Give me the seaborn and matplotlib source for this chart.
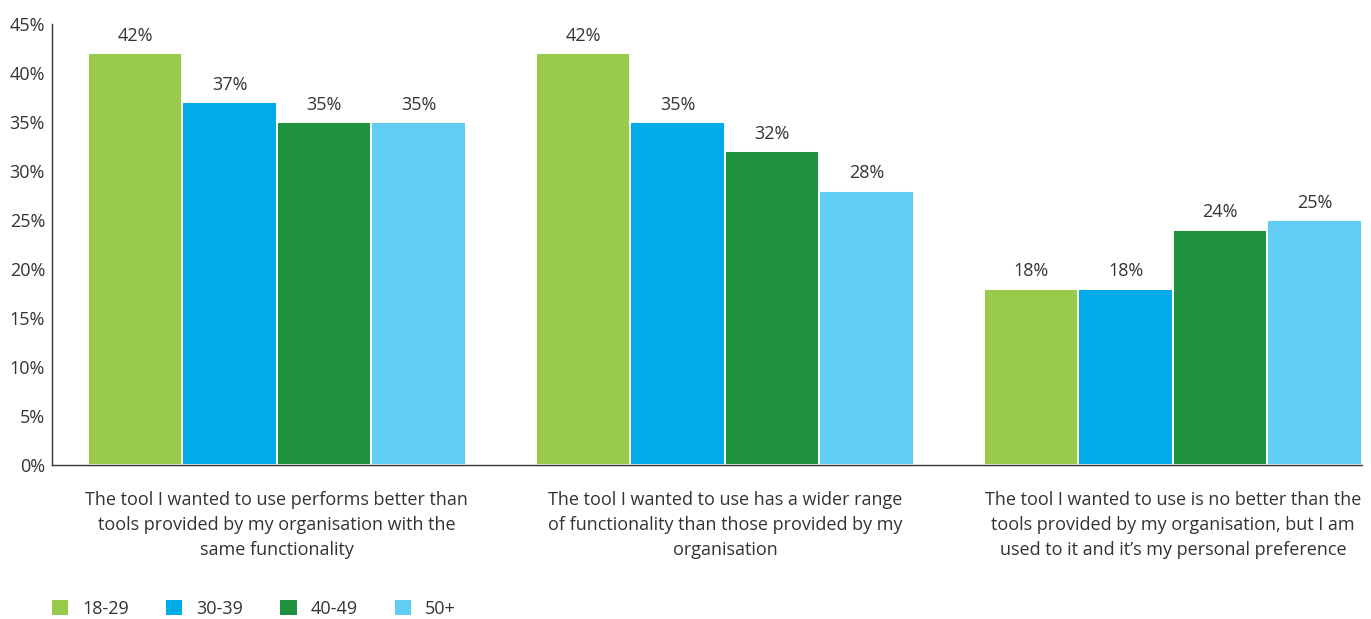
import matplotlib
matplotlib.use("Agg")
import matplotlib.pyplot as plt
import seaborn as sns
import pandas as pd
from matplotlib.patches import Patch

categories = [
    "The tool I wanted to use performs better than\ntools provided by my organisation with the\nsame functionality",
    "The tool I wanted to use has a wider range\nof functionality than those provided by my\norganisation",
    "The tool I wanted to use is no better than the\ntools provided by my organisation, but I am\nused to it and it\u2019s my personal preference",
]
age_groups = ["18-29", "30-39", "40-49", "50+"]
values_18_29 = [42, 42, 18]
values_30_39 = [37, 35, 18]
values_40_49 = [35, 32, 24]
values_50_plus = [35, 28, 25]
palette = ["#9ACA4B", "#00ABE7", "#1F913F", "#62CDF3"]
y_ticks = [0, 5, 10, 15, 20, 25, 30, 35, 40, 45]

series = [values_18_29, values_30_39, values_40_49, values_50_plus]
rows = []
for grp, vals in zip(age_groups, series):
    for cat, v in zip(categories, vals):
        rows.append({"category": cat, "age": grp, "value": v})
df = pd.DataFrame(rows)

sns.set_theme(style="white")
plt.rcParams["font.family"] = ["Open Sans", "DejaVu Sans"]
text_color = "#333333"
fs = 13

fig = plt.figure(figsize=(13.71, 6.19), dpi=100)
ax = fig.add_axes([52 / 1371, (619 - 465) / 619, (1362 - 52) / 1371, (465 - 24) / 619])

sns.barplot(data=df, x="category", y="value", hue="age", order=categories,
            hue_order=age_groups, palette=palette, width=0.844, saturation=1,
            edgecolor="white", linewidth=1.4, legend=False, ax=ax)

for cont in ax.containers:
    ax.bar_label(cont, fmt="%d%%", padding=6, fontsize=fs, color=text_color)

ax.set_xlim(-0.502, 2.422)
ax.set_ylim(0, 45)
ax.set_yticks(y_ticks)
ax.set_yticklabels([f"{t}%" for t in y_ticks], fontsize=fs, color=text_color)
ax.set_xticks(range(len(categories)))
ax.set_xticklabels(categories, fontsize=fs, color=text_color, linespacing=1.5)
ax.tick_params(axis="x", length=0, pad=19)
ax.tick_params(axis="y", length=0, pad=5)
ax.set_xlabel("")
ax.set_ylabel("")
for side in ["top", "right"]:
    ax.spines[side].set_visible(False)
for side in ["left", "bottom"]:
    ax.spines[side].set_color("#333333")
    ax.spines[side].set_linewidth(1.0)

handles = [Patch(facecolor=c, edgecolor="none") for c in palette]
fig.legend(handles, age_groups, loc="lower left", bbox_to_anchor=(52 / 1371, 0.002),
           ncol=4, frameon=False, fontsize=fs, handlelength=0.9, handleheight=0.9,
           handletextpad=0.78, columnspacing=2.05, borderpad=0.0, borderaxespad=0.0,
           labelcolor=text_color)

fig.savefig("out.png", dpi=100)
